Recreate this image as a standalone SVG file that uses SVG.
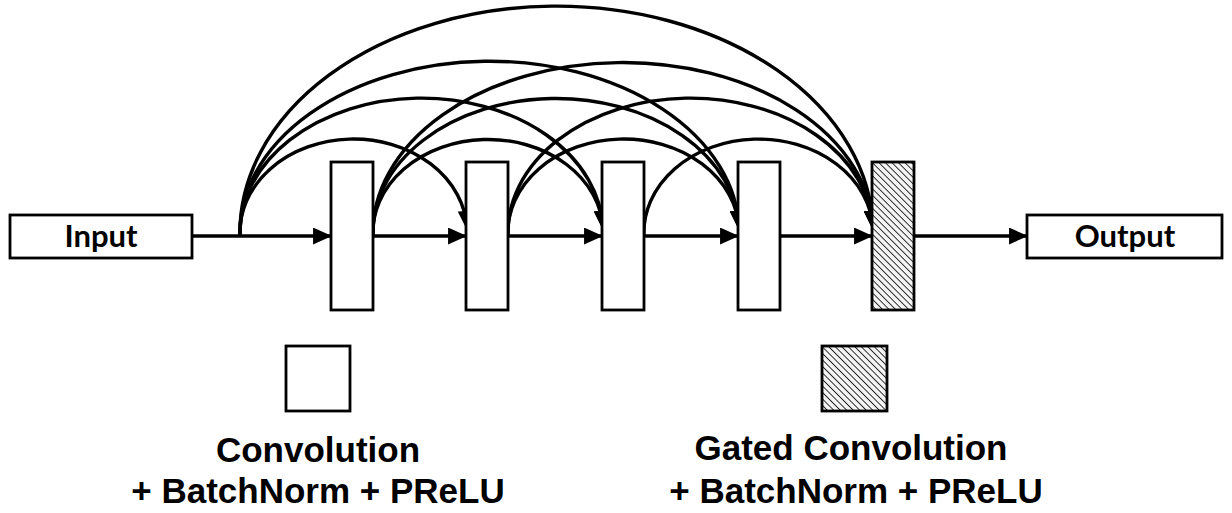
<svg xmlns="http://www.w3.org/2000/svg" width="1232" height="513" viewBox="0 0 1232 513">
  <style>
    .box { fill: #ffffff; stroke: #000000; stroke-width: 2.8; }
    .hatched { fill: url(#hatch); stroke: #000000; stroke-width: 2.8; }
    .io { font-family: Lato, "Open Sans", "Liberation Sans", sans-serif; font-weight: bold; font-size: 31px; fill: #000000; text-anchor: middle; }
    .leg { font-family: "Liberation Sans", Arial, sans-serif; font-weight: bold; font-size: 35px; fill: #000000; text-anchor: middle; }
    .conn path, .conn line { fill: none; stroke: #000000; stroke-width: 3.4; marker-end: url(#arrow); }
  </style>
  <defs>
    <marker id="arrow" markerUnits="userSpaceOnUse" markerWidth="19" markerHeight="17" viewBox="0 0 18 16" refX="17" refY="8" orient="auto">
      <path d="M0,0 L18,8 L0,16 Z" fill="#000000"/>
    </marker>
    <pattern id="hatch" patternUnits="userSpaceOnUse" width="4.6" height="4.6" patternTransform="rotate(-45)">
      <rect width="4.6" height="4.6" fill="#f4f4f4"/>
      <line x1="0" y1="0" x2="0" y2="4.6" stroke="#000000" stroke-width="1.6"/>
    </pattern>
  </defs>

  <g id="connectors" class="conn">
    <line x1="192" y1="236" x2="331" y2="236"/>
    <line x1="373" y1="236" x2="466" y2="236"/>
    <line x1="508" y1="236" x2="602" y2="236"/>
    <line x1="644" y1="236" x2="738" y2="236"/>
    <line x1="780" y1="236" x2="872" y2="236"/>
    <line x1="914" y1="236" x2="1027" y2="236"/>
    <path d="M240,236 A113,93 0 0 1 467,229"/>
    <path d="M240,236 A181,134 0 0 1 603,229"/>
    <path d="M240,236 A249,171 0 0 1 739,229"/>
    <path d="M240,236 A316,226 0 0 1 873,229"/>
    <path d="M373,236 A115,93 0 0 1 603,229"/>
    <path d="M373,236 A183,134 0 0 1 739,229"/>
    <path d="M373,236 A250,170 0 0 1 873,229"/>
    <path d="M508,236 A115,93 0 0 1 739,229"/>
    <path d="M508,236 A182,134 0 0 1 873,229"/>
    <path d="M644,236 A114,93 0 0 1 873,229"/>
  </g>

  <g id="input">
    <rect class="box" x="10" y="215" width="182" height="43"/>
    <text class="io" x="101" y="247">Input</text>
  </g>
  <g id="block1"><rect class="box" x="331" y="162" width="42" height="148"/></g>
  <g id="block2"><rect class="box" x="466" y="162" width="42" height="148"/></g>
  <g id="block3"><rect class="box" x="602" y="162" width="42" height="148"/></g>
  <g id="block4"><rect class="box" x="738" y="162" width="42" height="148"/></g>
  <g id="gated"><rect class="hatched" x="872" y="162" width="42" height="148"/></g>
  <g id="output">
    <rect class="box" x="1027" y="215" width="195" height="43"/>
    <text class="io" x="1125" y="247">Output</text>
  </g>

  <g id="legend-conv">
    <rect class="box" x="286" y="346" width="64" height="65"/>
    <text class="leg" x="318" y="462">Convolution</text>
    <text class="leg" x="318" y="503">+ BatchNorm + PReLU</text>
  </g>
  <g id="legend-gated">
    <rect class="hatched" x="822" y="346" width="65" height="65"/>
    <text class="leg" x="851" y="460">Gated Convolution</text>
    <text class="leg" x="856" y="503">+ BatchNorm + PReLU</text>
  </g>
</svg>
